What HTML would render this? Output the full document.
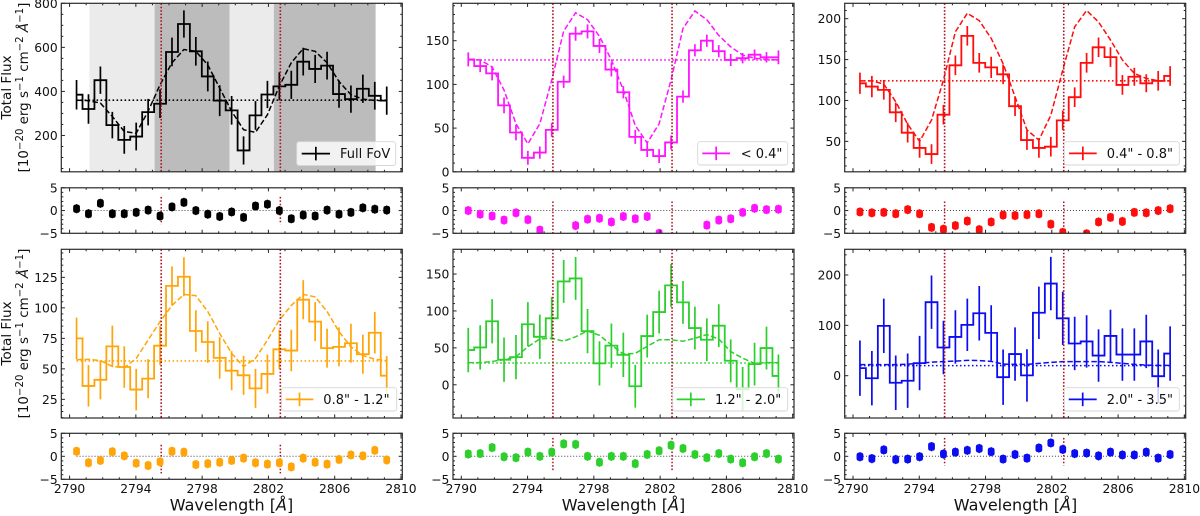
<!DOCTYPE html>
<html lang="en">
<head>
<meta charset="utf-8">
<title>Mg II spectra by aperture</title>
<style>
html,body{margin:0;padding:0;background:#fff;}
#figure{display:block;width:1200px;height:516px;font-family:"DejaVu Sans","Liberation Sans",sans-serif;filter:blur(0.3px);}
text{font-family:"DejaVu Sans","Liberation Sans",sans-serif;fill:#111;}
</style>
</head>
<body>
<svg id="figure" xmlns="http://www.w3.org/2000/svg" width="1200" height="516" viewBox="0 0 1200 516">
  <g transform="translate(11,87.5) rotate(-90)">
    <text text-anchor="middle" font-size="13.6">Total Flux</text>
    <text text-anchor="middle" y="17" font-size="13.4">[10<tspan dy="-5" font-size="10.2">−20</tspan><tspan dy="5"> erg s</tspan><tspan dy="-5" font-size="10.2">−1</tspan><tspan dy="5"> cm</tspan><tspan dy="-5" font-size="10.2">−2</tspan><tspan dy="5" font-style="italic"> Å</tspan><tspan dy="-5" font-size="10.2">−1</tspan><tspan dy="5">]</tspan></text>
  </g>
  <g transform="translate(11,333.5) rotate(-90)">
    <text text-anchor="middle" font-size="13.6">Total Flux</text>
    <text text-anchor="middle" y="17" font-size="13.4">[10<tspan dy="-5" font-size="10.2">−20</tspan><tspan dy="5"> erg s</tspan><tspan dy="-5" font-size="10.2">−1</tspan><tspan dy="5"> cm</tspan><tspan dy="-5" font-size="10.2">−2</tspan><tspan dy="5" font-style="italic"> Å</tspan><tspan dy="-5" font-size="10.2">−1</tspan><tspan dy="5">]</tspan></text>
  </g>
  <text x="231.5" y="510.5" text-anchor="middle" font-size="16">Wavelength [<tspan font-style="italic">Å</tspan>]</text>
  <text x="623.5" y="510.5" text-anchor="middle" font-size="16">Wavelength [<tspan font-style="italic">Å</tspan>]</text>
  <text x="1015.5" y="510.5" text-anchor="middle" font-size="16">Wavelength [<tspan font-style="italic">Å</tspan>]</text>
</svg>
<script>
// ---- data ----
const wavelengths = [2790.42,2791.14,2791.86,2792.58,2793.30,2794.02,2794.74,2795.46,2796.18,2796.90,2797.62,2798.34,2799.06,2799.78,2800.50,2801.22,2801.94,2802.66,2803.38,2804.10,2804.82,2805.54,2806.26,2806.98,2807.70,2808.42,2809.14];
const lineCenters = [2795.53, 2802.72];
const xTickLabels = [2790, 2794, 2798, 2802, 2806, 2810];
const residualTicks = [-5, 0, 5];

const fullFlux = [385,320,451,247,180,195,306,344,579,706,582,468,358,314,132,291,386,423,430,535,502,517,388,365,412,380,358];
const fullErr = [67,67,62,60,63,63,60,65,65,62,65,68,70,65,64,65,62,64,64,63,64,63,62,62,64,63,64];
const fullModel = [360,358,347,286,218,210,310,430,530,590,582,520,415,310,226,214,294,425,530,594,582,530,445,385,365,359,358];
const fullResid = [0.4,-0.7,1.6,-0.7,-0.7,-0.4,0.1,-1.2,0.8,1.8,0,-0.8,-1.3,-0.3,-1.5,1.0,1.4,0,-1.8,-1.0,-1.2,0.1,-0.8,-0.4,0.6,0.3,0.1];
const fullTicks = [200,400,600,800];
const fovShadeEdges = [2791.2,2795.13,2799.66,2802.33,2808.47];

const coreFlux = [128.6,121,112.6,76,45,16,22,48,103,158,160.7,144,117,91,40,25,18,33.6,86,139,150,138,128,130,134,131,131];
const coreErr = [8,7,8,9,9,8,7,8,7,8,8,8,8,7,8,8,8,8,7,7,7,7,7,6,6,6,8];
const coreModel = [128,128,120,93.5,55,32,55,105,161,182,174,155,128,93.5,53,33,55,105,164,184,174,156,143,133.6,130,128.6,128];
const coreResid = [0,-0.8,-1.2,-2.1,-0.5,-2.0,-4.3,-7,-6,-3.3,-1.9,-1.7,-2.5,-1.3,-1.8,-1.3,-5.0,-7,-6.5,-6,-3.2,-2.1,-1.8,-0.4,0.5,0.2,0.3];
const coreTicks = [0,50,100,150];

const innerFlux = [121,117,113,85.5,60.6,42,34.5,82.6,143,179,146,140.5,132,93,51.6,42,43.5,75.7,104,146,165,153,119,129,121,124,130];
const innerErr = [13,13,12,12,12,12,12,12,12,12,12,13,12,12,12,12,12,12,12,12,12,12,12,11,11,12,12];
const innerModel = [124,124,120,98.5,71,50,76,125,184,206.6,197.6,176,145,104.6,64,51.6,82,137,190,210,196,174,149.5,133,127,124,124];
const innerResid = [-0.3,-0.5,-0.4,-0.7,0.2,-0.7,-3.7,-4.1,-3.3,-2.3,-4.2,-2.5,-1,-1.1,-0.9,-0.7,-3,-4.8,-6,-5.1,-2.5,-1.5,-2.4,-0.4,-0.5,0,0.4];
const innerTicks = [50,100,150,200];

const midFlux = [75,36,41,68.4,51.5,33,42,69,118,125.5,81,72,59,48.5,44.7,34,45.8,66,65,106.7,88.7,67,68,71,62,79.6,44.4];
const midErr = [17,17,16,17,17,17,16,16,16,16,17,17,17,16,16,16,16,16,17,16,16,16,16,16,16,17,16];
const midModel = [57.5,57.8,56.7,52,51,58.6,73.6,88.7,102,111,110,97,79,62.7,51.8,58.6,73.6,90,102,111,109,97,80.5,68,61,57.8,56.7];
const midResid = [1.1,-1.4,-0.9,1.0,0.1,-1.5,-2,-1.2,1.1,0.9,-1.8,-1.6,-1.3,-0.9,-0.4,-1.4,-1.7,-1.4,-2.3,-0.4,-1.3,-1.7,-0.7,0.3,0.1,1.3,-0.8];
const midTicks = [25,50,75,100,125];

const outerFlux = [47,50.6,86,34,37.5,82,65,90,140,144,72.7,29,53,40.6,-2,66,98.5,134.6,111.6,76.8,61,80,32.5,-6,28,49.7,12];
const outerErr = [30,30,30,30,30,30,30,29,29,29,30,30,30,30,29,29,29,29,29,29,29,29,29,30,29,29,29];
const outerModel = [30,30,31.6,34,38,51.5,62,63,59,65,73,67,54,41.6,42.5,52,61,61,59,63,68,62,45,36,29,30,30];
const outerResid = [0.5,0.6,1.9,-0.1,-0.3,0.9,0,0.9,2.7,2.6,0,-1.3,0,0,-1.6,0.4,1.2,2.4,1.7,0.4,-0.3,0.6,-0.6,-1.4,-0.1,0.6,-0.6];
const outerTicks = [0,50,100,150];

const haloFlux = [15,-5,99,-14,-10,25,146,56,77,101,124,85,-3,43,0.6,125,183,114,64,68,40,79,42,42,68,-1,44];
const haloErr = [55,54,54,54,54,54,53,53,53,52,54,55,55,53,52,52,53,53,53,52,52,52,52,52,53,53,54];
const haloModel = [22,22,22,22,23,24.5,27,28,29,30.5,30,28.5,23,22.5,22.5,24.5,26.5,28,28,28,28,26.5,24.5,22.5,21,20.5,20.5];
const haloResid = [-0.1,-0.5,1.4,-0.7,-0.6,-0.1,2.1,0.5,0.9,1.3,1.7,1,-0.6,0.4,-0.4,1.8,2.9,1.5,0.6,0.7,0.1,0.9,0.3,0.3,0.9,-0.4,0.4];
const haloTicks = [0,100,200];

// ---- panel layout ----
const SVGNS = 'http://www.w3.org/2000/svg';
const figure = document.getElementById('figure');
const X_MIN = 2789.5, X_MAX = 2810.08;
const PANEL_W = 341;
const ROW_TOP = {mainTop:3.3, mainBottom:171.8, resTop:187.8, resBottom:233.3};
const ROW_BOT = {mainTop:249.3, mainBottom:418, resTop:433.3, resBottom:479.3};

const panels = [
  {key:'full', label:'Full FoV', color:'#000000', left:61.3, row:ROW_TOP, flux:fullFlux, err:fullErr, model:fullModel, resid:fullResid, cont:360, ticks:fullTicks, yMin:35, yMax:800, minorStep:50, shade:fovShadeEdges,
   legend:{x0:296.7,x1:395.7,line0:301.7,line1:330,text:340,top:141.7,bottom:165.5}, lineSpans:[[-3,3],[-3,3]], xLabels:false},
  {key:'core', label:'< 0.4"', color:'#ff14ff', left:453, row:ROW_TOP, flux:coreFlux, err:coreErr, model:coreModel, resid:coreResid, cont:128, ticks:coreTicks, yMin:0, yMax:192.8, minorStep:10,
   legend:{x0:697.7,x1:787.7,line0:702.3,line1:730,text:740.7,top:141.7,bottom:165}, lineSpans:[[-5,2],[-5,2]], xLabels:false},
  {key:'inner', label:'0.4" - 0.8"', color:'#ff0c0c', left:844.7, row:ROW_TOP, flux:innerFlux, err:innerErr, model:innerModel, resid:innerResid, cont:124, ticks:innerTicks, yMin:12.8, yMax:218.8, minorStep:10,
   legend:{x0:1064.3,x1:1179.3,line0:1069,line1:1096.7,text:1106.7,top:141.7,bottom:165}, lineSpans:[[-5,2],[-5,2]], xLabels:false},
  {key:'mid', label:'0.8" - 1.2"', color:'#ffa50a', left:61.3, row:ROW_BOT, flux:midFlux, err:midErr, model:midModel, resid:midResid, cont:56.5, ticks:midTicks, yMin:9.7, yMax:148, minorStep:5,
   legend:{x0:281.7,x1:396.7,line0:285.7,line1:313.3,text:323.3,top:387.7,bottom:411}, lineSpans:[[-3.7,2.5],[-3.7,2.5]], xLabels:true},
  {key:'outer', label:'1.2" - 2.0"', color:'#2ccf2c', left:453, row:ROW_BOT, flux:outerFlux, err:outerErr, model:outerModel, resid:outerResid, cont:29.5, ticks:outerTicks, yMin:-45, yMax:183.5, minorStep:10,
   legend:{x0:672.7,x1:787.7,line0:676.7,line1:705,text:715,top:387.7,bottom:411}, lineSpans:[[-3,4],[-3,4]], xLabels:true},
  {key:'halo', label:'2.0" - 3.5"', color:'#0c0cf0', left:844.7, row:ROW_BOT, flux:haloFlux, err:haloErr, model:haloModel, resid:haloResid, cont:20, ticks:haloTicks, yMin:-84, yMax:251, minorStep:20,
   legend:{x0:1064.3,x1:1179.3,line0:1068.7,line1:1096.7,text:1106.7,top:387.7,bottom:411}, lineSpans:[[-2,4],[-2,4]], xLabels:true}
];

function node(tag, parent, attrs) {
  const el = document.createElementNS(SVGNS, tag);
  for (const k in attrs) el.setAttribute(k, attrs[k]);
  parent.appendChild(el);
  return el;
}

const defs = node('defs', figure, {});



function drawTicks(group, vals, horizontal, box, len, sx, sy) {
  vals.forEach(function (v) {
    if (horizontal) {
      const x = sx(v);
      if (x < box.l - 0.1 || x > box.r + 0.1) return;
      const a = node('line', group, {x1:x, x2:x, y1:box.b, y2:box.b-len, stroke:'#222', 'stroke-width':1});
      
      
      const b = node('line', group, {x1:x, x2:x, y1:box.t, y2:box.t+len, stroke:'#222', 'stroke-width':1});
      
      
    } else {
      const y = sy(v);
      if (y < box.t - 0.1 || y > box.b + 0.1) return;
      const a = node('line', group, {x1:box.l, x2:box.l+len, y1:y, y2:y, stroke:'#222', 'stroke-width':1});
      
      
      const b = node('line', group, {x1:box.r, x2:box.r-len, y1:y, y2:y, stroke:'#222', 'stroke-width':1});
      
      
    }
  });
}

function rangeList(lo, hi, step) {
  const out = [];
  const start = Math.ceil(lo / step) * step;
  for (let v = start; v <= hi + 1e-9; v += step) out.push(v);
  return out;
}

function drawAxesFrame(g, box, sx, sy, yMajor, yMinorStep, yMin, yMax) {
  drawTicks(g, xTickLabels, true, box, 3.6, sx, sy);
  drawTicks(g, rangeList(2790, 2810, 1).filter(function (v) { return xTickLabels.indexOf(v) < 0; }), true, box, 2, sx, sy);
  drawTicks(g, yMajor, false, box, 3.6, sx, sy);
  drawTicks(g, rangeList(yMin, yMax, yMinorStep).filter(function (v) { return yMajor.indexOf(v) < 0; }), false, box, 2, sx, sy);
  const frame = node('rect', g, {x:box.l, y:box.t, width:box.r-box.l, height:box.b-box.t, fill:'none', stroke:'#2a2a2a', 'stroke-width':1.2});
  
  
  yMajor.forEach(function (v) {
    const t = node('text', g, {x:box.l-3.6, y:sy(v)+4.5, 'text-anchor':'end', 'font-size':12.3});
    
    
    t.textContent = String(v).replace('-', '\u2212');
  });
}

panels.forEach(function (p) {
  const color = p.color;
  const row = p.row;
  const left = p.left, right = p.left + PANEL_W;
  const sx = function (w) { return left + (w - X_MIN) / (X_MAX - X_MIN) * PANEL_W; };

  const panel = node('g', figure, {});
  
  

  // ---------- main axes ----------
  const mainBox = {l:left, r:right, t:row.mainTop, b:row.mainBottom};
  const sy = function (v) { return row.mainBottom - (v - p.yMin) / (p.yMax - p.yMin) * (row.mainBottom - row.mainTop); };
  const clipMain = node('clipPath', defs, {id:'clip-main-' + p.key});
  
  
  const clipMainRect = node('rect', clipMain, {x:left, y:row.mainTop, width:PANEL_W, height:row.mainBottom-row.mainTop});
  
  

  const main = node('g', panel, {});
  
  
  const plot = node('g', main, {'clip-path':'url(#clip-main-' + p.key + ')'});
  
  

  if (p.shade) {
    const shadeColors = ['#ebebeb', '#bcbcbc', '#ebebeb', '#bcbcbc'];
    for (let i = 0; i < p.shade.length - 1; i++) {
      const s = node('rect', plot, {x:sx(p.shade[i]), y:row.mainTop, width:sx(p.shade[i+1])-sx(p.shade[i]), height:row.mainBottom-row.mainTop, fill:shadeColors[i]});
      
      
    }
  }

  const contLine = node('line', plot, {x1:sx(wavelengths[0]), x2:sx(wavelengths[wavelengths.length-1]), y1:sy(p.cont), y2:sy(p.cont), stroke:color, 'stroke-width':1.6, 'stroke-dasharray':'1.6 2.4'});
  
  

  const modelPts = wavelengths.map(function (w, i) { return sx(w).toFixed(2) + ',' + sy(p.model[i]).toFixed(2); }).join(' ');
  const modelLine = node('polyline', plot, {points:modelPts, fill:'none', stroke:color, 'stroke-width':1.5, 'stroke-dasharray':'5.5 2.5'});
  
  

  let stepPts = sx(wavelengths[0]).toFixed(2) + ',' + sy(p.flux[0]).toFixed(2);
  for (let i = 1; i < wavelengths.length; i++) {
    const mid = sx((wavelengths[i-1] + wavelengths[i]) / 2).toFixed(2);
    stepPts += ' ' + mid + ',' + sy(p.flux[i-1]).toFixed(2) + ' ' + mid + ',' + sy(p.flux[i]).toFixed(2);
  }
  stepPts += ' ' + sx(wavelengths[wavelengths.length-1]).toFixed(2) + ',' + sy(p.flux[wavelengths.length-1]).toFixed(2);
  const stepLine = node('polyline', plot, {points:stepPts, fill:'none', stroke:color, 'stroke-width':1.8});
  
  

  wavelengths.forEach(function (w, i) {
    const bar = node('line', plot, {x1:sx(w), x2:sx(w), y1:sy(p.flux[i]-p.err[i]), y2:sy(p.flux[i]+p.err[i]), stroke:color, 'stroke-width':1.7});
    
    
  });

  lineCenters.forEach(function (w) {
    const v = node('line', plot, {x1:sx(w), x2:sx(w), y1:row.mainTop, y2:row.mainBottom, stroke:'#b0101c', 'stroke-width':1.6, 'stroke-dasharray':'1.6 1.8'});
    
    
  });

  // legend
  const lg = p.legend;
  const legend = node('g', main, {});
  
  
  const lgBox = node('rect', legend, {x:lg.x0, y:lg.top, width:lg.x1-lg.x0, height:lg.bottom-lg.top, rx:2.5, ry:2.5, fill:'#fff', 'fill-opacity':0.8, stroke:'#d6d6d6', 'stroke-width':0.9});
  
  
  const lgMid = (lg.top + lg.bottom) / 2;
  const lgLine = node('line', legend, {x1:lg.line0, x2:lg.line1, y1:lgMid, y2:lgMid, stroke:color, 'stroke-width':1.8});
  
  
  const lgBar = node('line', legend, {x1:(lg.line0+lg.line1)/2, x2:(lg.line0+lg.line1)/2, y1:lgMid-6.8, y2:lgMid+6.8, stroke:color, 'stroke-width':1.7});
  
  
  const lgText = node('text', legend, {x:lg.text, y:lgMid+4.6, 'font-size':13});
  
  
  lgText.textContent = p.label;

  drawAxesFrame(main, mainBox, sx, sy, p.ticks, p.minorStep, p.yMin, p.yMax);

  // ---------- residual axes ----------
  const resBox = {l:left, r:right, t:row.resTop, b:row.resBottom};
  const ry = function (v) { return row.resBottom - (v + 5) / 10 * (row.resBottom - row.resTop); };
  const clipRes = node('clipPath', defs, {id:'clip-res-' + p.key});
  
  
  const clipResRect = node('rect', clipRes, {x:left, y:row.resTop, width:PANEL_W, height:row.resBottom-row.resTop});
  
  

  const res = node('g', panel, {});
  
  
  const resPlot = node('g', res, {'clip-path':'url(#clip-res-' + p.key + ')'});
  
  

  const zero = node('line', resPlot, {x1:sx(wavelengths[0]), x2:sx(wavelengths[wavelengths.length-1]), y1:ry(0), y2:ry(0), stroke:'#444', 'stroke-width':1, 'stroke-dasharray':'1 2'});
  
  

  lineCenters.forEach(function (w, i) {
    const v = node('line', resPlot, {x1:sx(w), x2:sx(w), y1:ry(p.lineSpans[i][1]), y2:ry(p.lineSpans[i][0]), stroke:'#b0101c', 'stroke-width':1.5, 'stroke-dasharray':'1.6 1.8'});
    
    
  });

  wavelengths.forEach(function (w, i) {
    const bar = node('line', resPlot, {x1:sx(w), x2:sx(w), y1:ry(p.resid[i]-1), y2:ry(p.resid[i]+1), stroke:color, 'stroke-width':1.4});
    
    
    const dot = node('rect', resPlot, {x:sx(w)-3.4, y:ry(p.resid[i])-4.1, width:6.8, height:8.2, rx:2.2, ry:2.2, fill:color});
    
    
  });

  drawAxesFrame(res, resBox, sx, ry, residualTicks, 1, -5, 5);

  if (p.xLabels) {
    xTickLabels.forEach(function (v) {
      const t = node('text', res, {x:sx(v), y:row.resBottom+13.8, 'text-anchor':'middle', 'font-size':12.3});
      
      
      t.textContent = String(v);
    });
  }
});
</script>
</body>
</html>
